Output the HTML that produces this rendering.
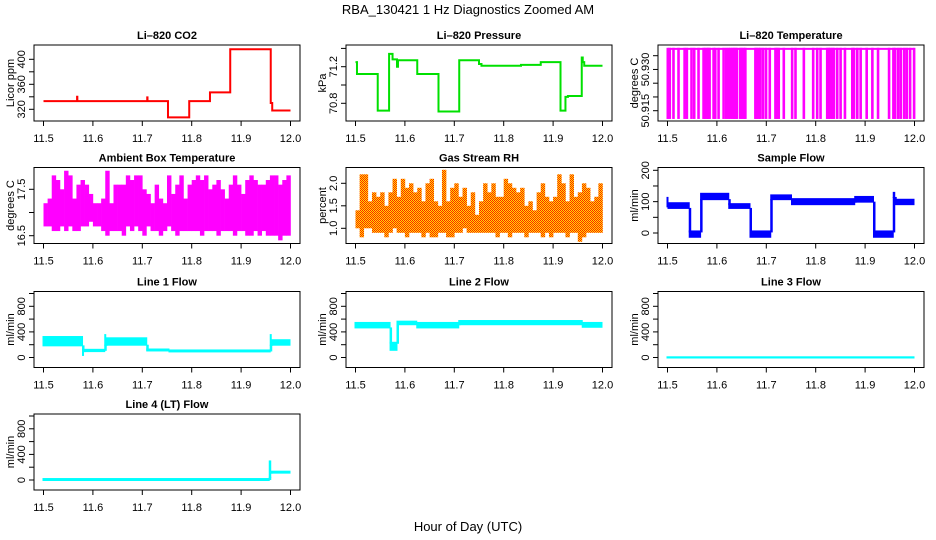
<!DOCTYPE html>
<html><head><meta charset="utf-8"><style>
html,body{margin:0;padding:0;background:#fff}
svg{display:block;font-family:"Liberation Sans",Arial,sans-serif}
</style></head><body>
<svg id="c" width="936" height="540" viewBox="0 0 936 540">
<defs><pattern id="rhpat" width="2" height="2" patternUnits="userSpaceOnUse"><rect width="2" height="2" fill="#ffe000"/><rect width="1" height="1" fill="#ff2000"/><rect x="1" y="1" width="1" height="1" fill="#ff2000"/></pattern></defs>
<text x="468" y="14" text-anchor="middle" font-size="13">RBA_130421  1 Hz Diagnostics Zoomed AM</text>
<text x="468" y="531" text-anchor="middle" font-size="13">Hour of Day (UTC)</text>
</svg>
<script>
// ---- data ----
const xTicks=[11.5,11.6,11.7,11.8,11.9,12.0];
const xTickLabels=["11.5","11.6","11.7","11.8","11.9","12.0"];
// CO2 step series
const co2T=[11.5,11.568,11.5685,11.71,11.7105,11.752,11.795,11.837,11.878,11.96,11.963,12.0];
const co2V=[333,340,333,339,333,307,333,347,416,330,318,318];
// Pressure step series
const presT=[11.5,11.503,11.545,11.568,11.575,11.584,11.586,11.625,11.668,11.71,11.75,11.755,11.835,11.875,11.915,11.925,11.93,11.958,11.96,11.963,12.0];
const presV=[71.25,71.12,70.72,71.34,71.28,71.2,71.27,71.12,70.71,71.27,71.23,71.21,71.22,71.25,70.72,70.87,70.88,71.3,71.25,71.21,71.21];
// Li-820 temperature dip times
const tempDips=[11.500,11.504,11.5115,11.5217,11.534,11.5386,11.548,11.5535,11.5622,11.5724,11.5755,11.579,11.582,11.5846,11.5927,11.5961,11.6028,11.613,11.6184,11.6231,11.627,11.631,11.634,11.637,11.6401,11.6468,11.650,11.654,11.657,11.6773,11.680,11.684,11.6874,11.6928,11.6989,11.7064,11.7179,11.721,11.7246,11.7348,11.7517,11.7585,11.7754,11.7943,11.8024,11.8092,11.8227,11.826,11.829,11.833,11.8363,11.843,11.8498,11.8586,11.8735,11.877,11.8836,11.8904,11.9026,11.9141,11.9256,11.9479,11.9567,11.960,11.9662,11.9716,11.9784,11.9838,11.9905,11.9986];
const tempHigh=50.9375, tempLow=50.912;
// Ambient box temperature (60 bins)
const ambHi=[17.2,17.3,17.8,17.7,17.5,17.9,17.8,17.3,17.6,17.7,17.6,17.4,17.2,17.2,17.3,17.9,17.2,17.6,17.6,17.6,17.8,17.7,17.8,17.8,17.5,17.4,17.2,17.6,17.3,17.2,17.8,17.4,17.6,17.8,17.3,17.6,17.7,17.8,17.7,17.8,17.5,17.6,17.7,17.5,17.3,17.6,17.8,17.6,17.4,17.7,17.8,17.7,17.6,17.6,17.7,17.8,17.8,17.6,17.7,17.8];
const ambLo=[16.7,16.7,16.6,16.6,16.7,16.6,16.7,16.6,16.6,16.7,16.7,16.8,16.7,16.7,16.6,16.5,16.6,16.6,16.6,16.5,16.7,16.6,16.7,16.6,16.5,16.7,16.6,16.6,16.5,16.6,16.7,16.6,16.5,16.6,16.6,16.6,16.6,16.6,16.5,16.6,16.6,16.6,16.5,16.6,16.6,16.6,16.5,16.6,16.6,16.5,16.5,16.6,16.5,16.6,16.5,16.5,16.5,16.4,16.5,16.5];
// Gas stream RH (60 bins)
const rhHi=[1.4,2.2,2.2,1.6,1.8,1.7,1.8,1.5,1.8,2.1,1.7,2.1,1.9,2.0,1.8,1.9,1.6,2.0,2.1,1.6,1.5,2.3,1.6,1.9,2.0,1.7,1.9,1.5,1.8,1.3,1.6,2.0,1.8,2.0,1.7,1.7,2.1,2.0,1.9,1.8,1.9,1.5,1.6,1.4,1.8,2.0,1.7,1.6,1.7,2.2,2.0,1.6,2.2,1.7,1.8,2.0,1.9,1.6,1.7,2.0];
const rhLo=[1.0,0.8,1.0,1.0,0.9,0.9,0.9,0.8,0.9,1.0,0.9,0.9,0.8,0.9,0.9,0.9,0.8,0.9,0.8,0.8,0.9,0.9,0.8,0.8,0.9,0.9,1.0,0.9,0.9,0.9,0.9,0.9,0.9,0.9,0.8,0.9,0.9,0.8,0.9,0.9,0.9,0.8,0.9,0.9,0.9,0.8,0.9,0.8,0.9,0.9,0.9,0.8,0.9,0.9,0.7,0.8,0.9,0.9,0.9,0.9];
// Band segments: start times, low, high
const sfT=[11.5,11.502,11.545,11.568,11.625,11.668,11.71,11.752,11.88,11.918,11.958,11.961];
const sfLo=[85,80,-12,108,80,-12,108,92,100,-12,115,92];
const sfHi=[112,95,5,125,92,5,120,108,115,5,128,106];
const l1T=[11.5,11.58,11.582,11.625,11.627,11.71,11.755,11.96,11.962];
const l1Lo=[190,40,100,200,200,110,95,200,200];
const l1Hi=[320,120,120,350,300,125,110,350,270];
const l2T=[11.5,11.571,11.585,11.625,11.71,11.96];
const l2Lo=[470,120,520,470,520,480];
const l2Hi=[540,230,560,540,570,540];
const l3T=[11.5];
const l3Lo=[0];
const l3Hi=[3];
const l4T=[11.5,11.958,11.961];
const l4Lo=[0,50,115];
const l4Hi=[15,290,130];

const NS="http://www.w3.org/2000/svg";
const svg=document.getElementById('c');
const rowTop=[45,167.5,291.5,414], colLeft=[34,346,658], BW=266, BH=76;
function el(t,a,p){const e=document.createElementNS(NS,t);for(const k in a)e.setAttribute(k,a[k]);(p||svg).appendChild(e);return e;}

function panel(col,row,title,ylab,yv1,yp1,yv2,yp2,yticks,ylabels,key){
  const L=colLeft[col],T=rowTop[row];
  const g=el('g',{});
  
  
  const xs=v=>L+9.5+(v-11.5)/0.5*247;
  const ys=v=>T+yp1+(v-yv1)/(yv2-yv1)*(yp2-yp1);
  const t=el('text',{x:L+BW/2,y:T-6,'text-anchor':'middle','font-size':11,'font-weight':'bold'},g);t.textContent=title;
  
  
  const marks=el('g',{},g);
  
  
  const box=el('rect',{x:L,y:T,width:BW,height:BH,fill:'none',stroke:'#000','stroke-width':1},g);
  
  
  const xa=el('g',{},g);
  
  
  el('line',{x1:xs(xTicks[0]),x2:xs(xTicks[xTicks.length-1]),y1:T+BH,y2:T+BH,stroke:'#000'},xa);
  xTicks.forEach((v,i)=>{el('line',{x1:xs(v),x2:xs(v),y1:T+BH,y2:T+BH+5,stroke:'#000'},xa);
    const tx=el('text',{x:xs(v),y:T+BH+21,'text-anchor':'middle','font-size':11},xa);tx.textContent=xTickLabels[i];});
  const ya=el('g',{},g);
  
  
  el('line',{x1:L,x2:L,y1:ys(yticks[0]),y2:ys(yticks[yticks.length-1]),stroke:'#000'},ya);
  yticks.forEach(v=>{el('line',{x1:L-5,x2:L,y1:ys(v),y2:ys(v),stroke:'#000'},ya);});
  ylabels.forEach(v=>{const y=ys(+v);const tx=el('text',{x:L-13,y:y,'text-anchor':'middle','font-size':11,transform:`rotate(-90 ${L-13} ${y}) translate(0 4)`},ya);tx.textContent=v;});
  const yl=el('text',{x:L-24,y:T+BH/2,'text-anchor':'middle','font-size':11,transform:`rotate(-90 ${L-24} ${T+BH/2}) translate(0 4)`},g);yl.textContent=ylab;
  
  
  return {xs,ys,marks};
}
function stepLine(p,T,V,color){
  let d='';T.forEach((t,i)=>{const x=p.xs(t),y=p.ys(V[i]);if(i===0)d='M'+x+' '+y;else d+=' H'+x+' V'+y;});
  const e=el('path',{d:d,fill:'none',stroke:color,'stroke-width':2},p.marks);
  
  
}
function bands(p,T,Lo,Hi,color){
  T.forEach((t,i)=>{const t2=i<T.length-1?T[i+1]:12.0;
    const x1=p.xs(t),x2=p.xs(t2);const y1=p.ys(Hi[i]),y2=p.ys(Lo[i]);
    const r=el('rect',{x:x1-1,y:Math.min(y1,y2)-1,width:Math.max(2,x2-x1+1),height:Math.abs(y2-y1)+2,fill:color},p.marks);
    
    
    if(i>0){
      const mPrev=(Lo[i-1]+Hi[i-1])/2, mCur=(Lo[i]+Hi[i])/2;
      const ya=p.ys(Math.max(Math.min(Hi[i-1],Hi[i]),Math.min(mPrev,mCur))), yb=p.ys(Math.min(Math.max(Lo[i-1],Lo[i]),Math.max(mPrev,mCur)));
      const c=el('rect',{x:x1-1,y:Math.min(ya,yb),width:2.5,height:Math.abs(yb-ya)+1,fill:color},p.marks);
      
      
    }
  });
}
function bins(p,Hi,Lo,fill){
  const n=Hi.length;
  Hi.forEach((h,i)=>{const t1=11.5+i*0.5/n,t2=11.5+(i+1)*0.5/n;
    const x1=p.xs(t1),x2=p.xs(t2);
    const r=el('rect',{x:x1,y:p.ys(h),width:x2-x1+0.3,height:p.ys(Lo[i])-p.ys(h),fill:fill},p.marks);
    
    
  });
}
const fTicks=[0,200,400,600,800,1000],fLab=["0","400","800"];

let p=panel(0,0,'Li\u2013820 CO2','Licor ppm',320,64.3,400,14.3,[320,340,360,380,400],["320","360","400"],'co2');
stepLine(p,co2T,co2V,'#ff0000');
p=panel(1,0,'Li\u2013820 Pressure','kPa',71.2,21.7,70.8,58.3,[70.8,71.0,71.2,71.4],["70.8","71.2"],'pressure');
stepLine(p,presT,presV,'#00e000');
p=panel(2,0,'Li\u2013820 Temperature','degrees C',50.915,65.7,50.930,24.45,[50.915,50.920,50.925,50.930,50.935],["50.915","50.930"],'li820-temp');
{const ln=el('line',{x1:p.xs(11.5),x2:p.xs(12.0),y1:p.ys(tempHigh),y2:p.ys(tempHigh),stroke:'#ff00ff','stroke-width':2},p.marks);
 
 
 tempDips.forEach(t=>{const r=el('rect',{x:p.xs(t)-1,y:p.ys(tempHigh)-1,width:2.6,height:p.ys(tempLow)-p.ys(tempHigh)+1,fill:'#ff00ff'},p.marks);
 
 });}
p=panel(0,1,'Ambient Box Temperature','degrees C',16.5,68.2,17.5,21.8,[16.5,17.0,17.5],["16.5","17.5"],'ambient-temp');
bins(p,ambHi,ambLo,'#ff00ff');
p=panel(1,1,'Gas Stream RH','percent',1.0,60.8,2.0,15.8,[1.0,1.5,2.0],["1.0","1.5","2.0"],'gas-rh');
bins(p,rhHi,rhLo,'url(#rhpat)');
p=panel(2,1,'Sample Flow','ml/min',0,65.5,200,2.8,[0,50,100,150,200],["0","100","200"],'sample-flow');
bands(p,sfT,sfLo,sfHi,'#0000ff');
p=panel(0,2,'Line 1 Flow','ml/min',0,66,800,14.8,fTicks,fLab,'line1-flow');
bands(p,l1T,l1Lo,l1Hi,'#00ffff');
p=panel(1,2,'Line 2 Flow','ml/min',0,66,800,14.8,fTicks,fLab,'line2-flow');
bands(p,l2T,l2Lo,l2Hi,'#00ffff');
p=panel(2,2,'Line 3 Flow','ml/min',0,66,800,14.8,fTicks,fLab,'line3-flow');
bands(p,l3T,l3Lo,l3Hi,'#00ffff');
p=panel(0,3,'Line 4 (LT) Flow','ml/min',0,66,800,14.8,fTicks,fLab,'line4-flow');
bands(p,l4T,l4Lo,l4Hi,'#00ffff');
</script>
</body></html>
